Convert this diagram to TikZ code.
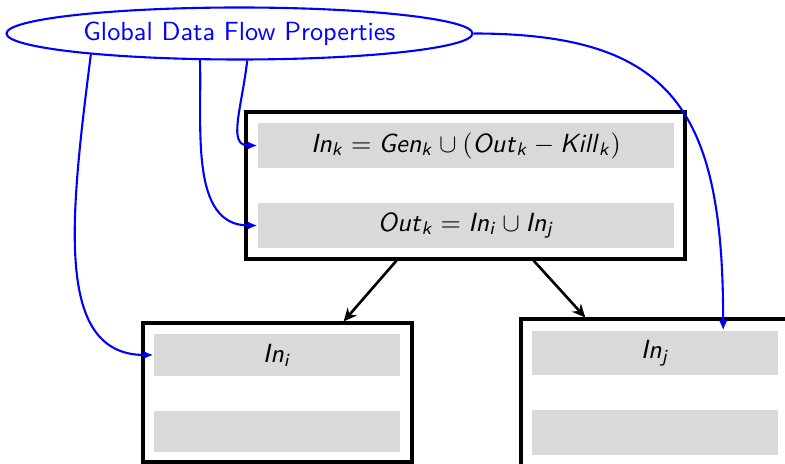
\documentclass[tikz,border=0pt]{standalone}
\usepackage{amsmath}
\usetikzlibrary{arrows.meta,shapes.geometric,calc}
% sans-serif italic variable names
\newcommand{\sv}[1]{\textsf{\textit{#1}}}
% one drawing unit
\newcommand{\pxu}{0.381pt}
\begin{document}
\begin{tikzpicture}[x=0.381pt,y=-0.381pt,
  frame/.style={draw=black,line width=1.2pt,inner sep=0pt},
  row/.style={fill=gray!30,inner sep=0pt,font=\sffamily},
  flow/.style={draw=blue,line width=0.8pt,-{Latex[length=3.8pt,width=3.2pt]}},
  edge/.style={draw=black,line width=1pt,-{Stealth[length=5pt,width=4.6pt,inset=1.6pt]}}]
\useasboundingbox (0,0) rectangle (785,464);
\clip (0,0) rectangle (785,464);

% global properties
\node[ellipse,draw=blue,line width=0.8pt,fill=white,inner sep=0pt,
      minimum width={466*\pxu},minimum height={52*\pxu},
      text=blue,font=\sffamily] (ell) at (239.5,33.5) {Global Data Flow Properties};

% block frames
\node[frame,minimum width={439*\pxu},minimum height={147*\pxu}] (kbox) at (465.5,185.5) {};
\node[frame,minimum width={269*\pxu},minimum height={139*\pxu}] (ibox) at (277.5,392.5) {};
\node[frame,minimum width={269*\pxu},minimum height={148*\pxu}] (jbox) at (655.5,393) {};

% block k
\node[row,minimum width={416*\pxu},minimum height={45*\pxu}] (k1) at (466,145.5)
  {$\sv{In}_{\sv{k}} = \sv{Gen}_{\sv{k}} \cup (\sv{Out}_{\sv{k}} - \sv{Kill}_{\sv{k}})$};
\node[row,minimum width={416*\pxu},minimum height={45*\pxu}] (k2) at (466,225.5)
  {$\sv{Out}_{\sv{k}} = \sv{In}_{\sv{i}} \cup \sv{In}_{\sv{j}}$};

% block i
\node[row,minimum width={246*\pxu},minimum height={42*\pxu}] (i1) at (277,355) {$\sv{In}_{\sv{i}}$};
\node[row,minimum width={246*\pxu},minimum height={41*\pxu}] (i2) at (277,431.5) {};

% block j
\node[row,minimum width={246*\pxu},minimum height={44*\pxu}] (j1) at (655,353) {$\sv{In}_{\sv{j}}$};
\node[row,minimum width={246*\pxu},minimum height={45*\pxu}] (j2) at (655,432.5) {};

% control flow
\draw[edge] ($(kbox.south west)!0.344!(kbox.south east)$) -- ($(ibox.north west)!0.743!(ibox.north east)$);
\draw[edge] ($(kbox.south west)!0.654!(kbox.south east)$) -- ($(jbox.north west)!0.242!(jbox.north east)$);

% property links
\draw[flow] (ell.-74) .. controls +(-6,50) and +(-30,0) .. (k1.west);
\draw[flow] (ell.-146.4) .. controls +(2,68) and +(-68,0) .. (k2.west);
\draw[flow] (ell.-172.15) .. controls +(-21,165) and +(-99,0) .. (i1.west);
\draw[flow] (ell.east) .. controls +(200,0) and +(0,-220) .. ($(j1.north west)!0.776!(j1.north east)$);
\end{tikzpicture}
\end{document}
